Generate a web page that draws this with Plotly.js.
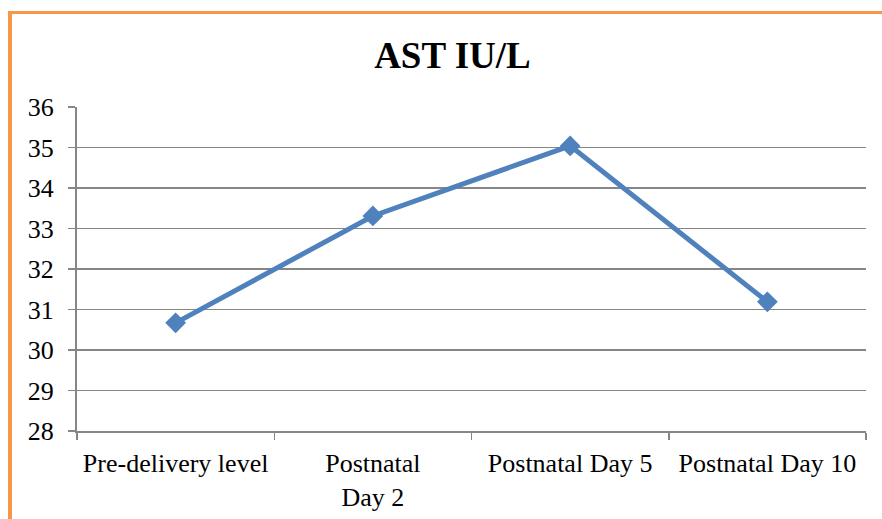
<!DOCTYPE html>
<html>
<head>
<meta charset="utf-8">
<script src="https://cdn.plot.ly/plotly-3.0.1.min.js"></script>
<style>
html,body{margin:0;padding:0;background:#fff;}
#wrap{position:relative;width:882px;height:519px;overflow:hidden;}
#chart{width:882px;height:519px;}
#frame{position:absolute;left:8px;top:11px;width:880px;height:520px;border-top:3px solid #F79646;border-left:4px solid #F79646;pointer-events:none;}
</style>
</head>
<body>
<div id="wrap">
<div id="chart"></div>
<div id="frame"></div>
</div>
<script>
const categories = ["Pre-delivery level", "Postnatal<br>Day 2", "Postnatal Day 5", "Postnatal Day 10"];
const astValues = [30.67, 33.31, 35.04, 31.19];
const yTicks = [28, 29, 30, 31, 32, 33, 34, 35, 36];
const chartTitle = "AST IU/L";

const font = "Liberation Serif";

Plotly.newPlot("chart", [{
  x: categories,
  y: astValues,
  type: "scatter",
  mode: "lines+markers",
  line: {color: "#4F81BD", width: 5},
  marker: {symbol: "diamond", size: 16, color: "#4F81BD"},
  hoverinfo: "x+y"
}], {
  width: 882, height: 519,
  margin: {l: 77, r: 16, t: 107, b: 88},
  paper_bgcolor: "#fff", plot_bgcolor: "#fff",
  showlegend: false,
  title: {text: "<b>" + chartTitle + "</b>", font: {family: font, size: 37, color: "#000"}, x: 0.513, xanchor: "center", y: 0.893, yanchor: "middle"},
  xaxis: {
    type: "category",
    range: [-0.5, 3.5],
    tickson: "boundaries",
    ticks: "outside", ticklen: 7, tickcolor: "#868686", tickwidth: 1.5,
    showline: true, linecolor: "#868686", linewidth: 2,
    showgrid: false, zeroline: false,
    tickfont: {family: font, size: 26, color: "#000"},
    ticklabelstandoff: 8
  },
  yaxis: {
    range: [28, 36],
    tickvals: yTicks,
    ticks: "outside", ticklen: 7, tickcolor: "#868686", tickwidth: 1.5,
    showline: true, linecolor: "#868686", linewidth: 2,
    showgrid: true, gridcolor: "#868686", gridwidth: 1.5,
    zeroline: false,
    tickfont: {family: font, size: 26, color: "#000"},
    ticklabelstandoff: 9
  }
}, {staticPlot: true});
</script>
</body>
</html>
